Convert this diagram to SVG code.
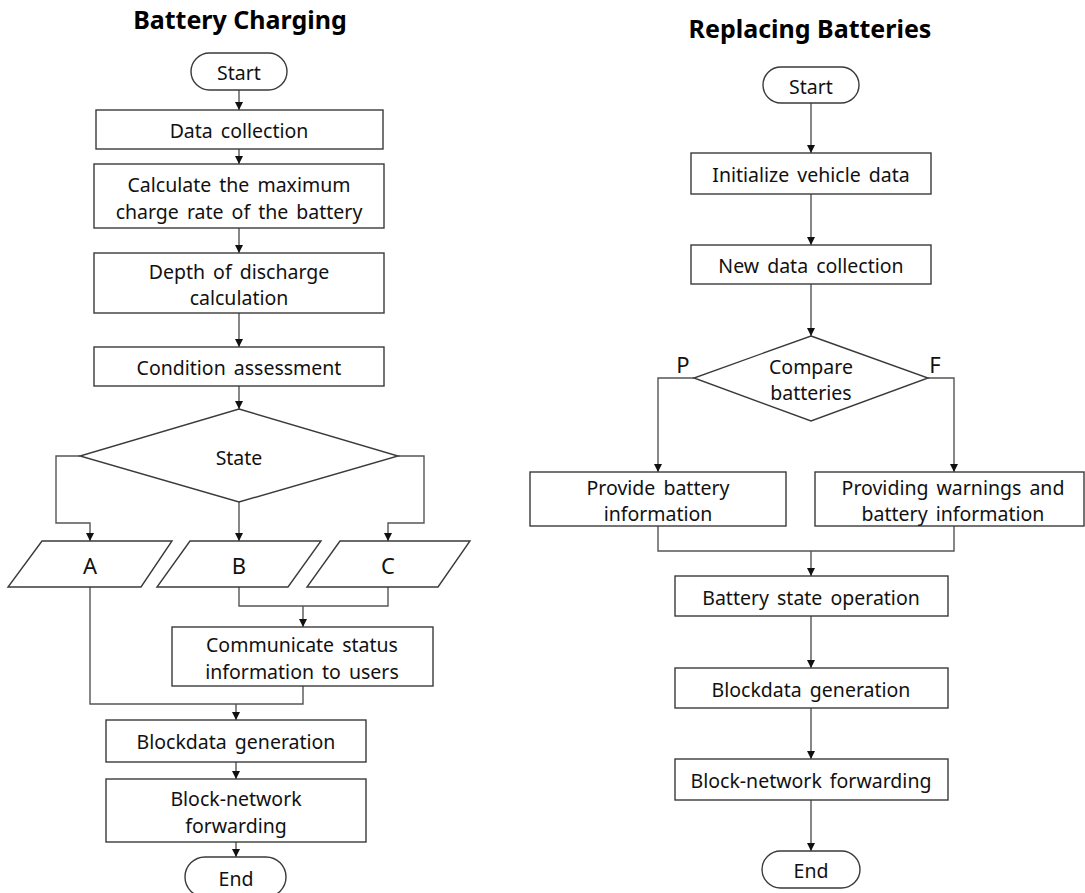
<svg xmlns="http://www.w3.org/2000/svg" width="1085" height="893" viewBox="0 0 1085 893">
<style>
.box{fill:#fff;stroke:#3a3a3a;stroke-width:1.4}
.t{font-family:"Noto Sans","Open Sans",sans-serif;font-size:19.5px;fill:#111;text-anchor:middle;dominant-baseline:central;word-spacing:3px}
.big{font-size:22px}
.title{font-family:"Noto Sans","Open Sans",sans-serif;font-size:25px;font-weight:bold;fill:#000;text-anchor:middle}
.c{fill:none;stroke:#555;stroke-width:1.4}
</style>
<defs>
<marker id="ah" markerWidth="10" markerHeight="10" refX="8" refY="4" orient="auto" markerUnits="userSpaceOnUse">
<path d="M0,0 L8,4 L0,8 Z" fill="#111"/>
</marker>
</defs>
<rect width="1085" height="893" fill="#fff"/>
<text class="title" x="240" y="29">Battery Charging</text>
<text class="title" x="810" y="38">Replacing Batteries</text>

<g id="connectors">
<path class="c" d="M239,90 V110" marker-end="url(#ah)"/>
<path class="c" d="M239,149 V164" marker-end="url(#ah)"/>
<path class="c" d="M239,228 V253" marker-end="url(#ah)"/>
<path class="c" d="M239,313 V347" marker-end="url(#ah)"/>
<path class="c" d="M239,386 V409" marker-end="url(#ah)"/>
<path class="c" d="M80,456 H56 V523 H90 V541" marker-end="url(#ah)"/>
<path class="c" d="M239,502 V541" marker-end="url(#ah)"/>
<path class="c" d="M398,456 H424 V523 H388 V541" marker-end="url(#ah)"/>
<path class="c" d="M239,587 V606 H388 V587"/>
<path class="c" d="M303,606 V627" marker-end="url(#ah)"/>
<path class="c" d="M90,587 V704 H303 V686"/>
<path class="c" d="M236,704 V720" marker-end="url(#ah)"/>
<path class="c" d="M236,762 V779" marker-end="url(#ah)"/>
<path class="c" d="M236,842 V857" marker-end="url(#ah)"/>
<path class="c" d="M811,103 V153" marker-end="url(#ah)"/>
<path class="c" d="M811,194 V245" marker-end="url(#ah)"/>
<path class="c" d="M811,284 V336" marker-end="url(#ah)"/>
<path class="c" d="M694,378 H658 V472" marker-end="url(#ah)"/>
<path class="c" d="M928,378 H954 V472" marker-end="url(#ah)"/>
<path class="c" d="M658,526 V551 H954 V526"/>
<path class="c" d="M811,551 V576" marker-end="url(#ah)"/>
<path class="c" d="M811,616 V668" marker-end="url(#ah)"/>
<path class="c" d="M811,708 V759" marker-end="url(#ah)"/>
<path class="c" d="M811,800 V851" marker-end="url(#ah)"/>
</g>

<g id="l-start"><rect class="box" x="191" y="53" width="96" height="37" rx="18.5"/><text class="t" x="239" y="72">Start</text></g>
<g id="l-data"><rect class="box" x="96" y="110" width="287" height="39"/><text class="t" x="239" y="130">Data collection</text></g>
<g id="l-calc"><rect class="box" x="94" y="164" width="290" height="64"/><text class="t" x="239" y="184">Calculate the maximum</text><text class="t" x="239" y="211">charge rate of the battery</text></g>
<g id="l-depth"><rect class="box" x="94" y="253" width="290" height="60"/><text class="t" x="239" y="271">Depth of discharge</text><text class="t" x="239" y="297">calculation</text></g>
<g id="l-cond"><rect class="box" x="94" y="347" width="290" height="39"/><text class="t" x="239" y="367">Condition assessment</text></g>
<g id="l-state"><polygon class="box" points="239,409 398,456 239,502 80,456"/><text class="t" x="239" y="457">State</text></g>
<g id="l-a"><polygon class="box" points="42,541 172,541 141,587 8,587"/><text class="t big" x="90" y="565">A</text></g>
<g id="l-b"><polygon class="box" points="190,541 321,541 288,587 157,587"/><text class="t big" x="239" y="565">B</text></g>
<g id="l-c"><polygon class="box" points="340,541 470,541 438,587 307,587"/><text class="t big" x="388" y="565">C</text></g>
<g id="l-comm"><rect class="box" x="172" y="627" width="261" height="59"/><text class="t" x="302" y="644">Communicate status</text><text class="t" x="302" y="671">information to users</text></g>
<g id="l-block"><rect class="box" x="106" y="720" width="260" height="42"/><text class="t" x="236" y="741">Blockdata generation</text></g>
<g id="l-fwd"><rect class="box" x="106" y="779" width="260" height="63"/><text class="t" x="236" y="798">Block-network</text><text class="t" x="236" y="825">forwarding</text></g>
<g id="l-end"><rect class="box" x="185" y="857" width="101" height="40" rx="20"/><text class="t" x="236" y="878">End</text></g>

<g id="r-start"><rect class="box" x="763" y="67" width="96" height="36" rx="18"/><text class="t" x="811" y="86">Start</text></g>
<g id="r-init"><rect class="box" x="691" y="153" width="240" height="41"/><text class="t" x="811" y="174">Initialize vehicle data</text></g>
<g id="r-new"><rect class="box" x="691" y="245" width="240" height="39"/><text class="t" x="811" y="265">New data collection</text></g>
<g id="r-cmp"><polygon class="box" points="811,336 928,378 811,421 694,378"/><text class="t" x="811" y="366">Compare</text><text class="t" x="811" y="392">batteries</text>
<text class="t big" x="683" y="364">P</text><text class="t big" x="935" y="364">F</text></g>
<g id="r-prov"><rect class="box" x="530" y="472" width="256" height="54"/><text class="t" x="658" y="487">Provide battery</text><text class="t" x="658" y="513">information</text></g>
<g id="r-warn"><rect class="box" x="815" y="472" width="269" height="54"/><text class="t" x="953" y="487">Providing warnings and</text><text class="t" x="953" y="513">battery information</text></g>
<g id="r-op"><rect class="box" x="675" y="576" width="273" height="40"/><text class="t" x="811" y="597">Battery state operation</text></g>
<g id="r-block"><rect class="box" x="675" y="668" width="273" height="40"/><text class="t" x="811" y="689">Blockdata generation</text></g>
<g id="r-fwd"><rect class="box" x="675" y="759" width="273" height="41"/><text class="t" x="811" y="780">Block-network forwarding</text></g>
<g id="r-end"><rect class="box" x="762" y="851" width="98" height="37" rx="18.5"/><text class="t" x="811" y="870">End</text></g>
</svg>
